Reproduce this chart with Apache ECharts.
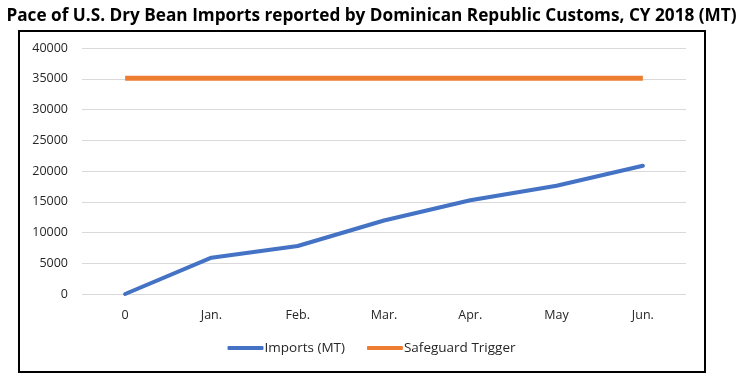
<!DOCTYPE html>
<html>
<head>
<meta charset="utf-8">
<script src="https://cdn.jsdelivr.net/npm/echarts@6/dist/echarts.min.js"></script>
<style>
html,body{margin:0;padding:0;background:#fff;}
#c{width:743px;height:388px;}
</style>
</head>
<body>
<div id="c"></div>
<script>
var categories = ['0', 'Jan.', 'Feb.', 'Mar.', 'Apr.', 'May', 'Jun.'];
var imports = [0, 5900, 7800, 11950, 15250, 17600, 20850];
var safeguard = [35100, 35100, 35100, 35100, 35100, 35100, 35100];
var seriesNames = ['Imports (MT)', 'Safeguard Trigger'];
var titleText = 'Pace of U.S. Dry Bean Imports reported by Dominican Republic Customs, CY 2018 (MT)';

var chart = echarts.init(document.getElementById('c'), null, {renderer: 'canvas'});
var font = '"Open Sans", "Noto Sans", sans-serif';
chart.setOption({
  animation: false,
  backgroundColor: '#fff',
  title: {
    text: titleText,
    left: 'center',
    top: 3,
    textStyle: {fontFamily: font, fontWeight: 'bold', fontSize: 17.2, color: '#000'}
  },
  graphic: [{
    type: 'rect',
    shape: {x: 19, y: 31, width: 686, height: 341},
    style: {fill: 'none', stroke: '#000', lineWidth: 2},
    silent: true, z: 100
  }],
  grid: {left: 82, right: 57, top: 48, bottom: 94, containLabel: false},
  legend: {
    data: seriesNames.map(function (n) { return {name: n, icon: 'roundRect'}; }),
    bottom: 28,
    left: 'center',
    itemWidth: 36,
    itemHeight: 4,
    itemGap: 22,
    textStyle: {fontFamily: font, fontSize: 13.5, color: '#262626', padding: [0, 0, 0, -4]}
  },
  xAxis: {
    type: 'category',
    data: categories,
    boundaryGap: true,
    axisLine: {show: false},
    axisTick: {show: false},
    axisLabel: {fontFamily: font, fontSize: 12.5, color: '#262626', margin: 15}
  },
  yAxis: {
    type: 'value',
    min: 0,
    max: 40000,
    interval: 5000,
    axisLine: {show: false},
    axisTick: {show: false},
    splitLine: {lineStyle: {color: '#d9d9d9', width: 1}},
    axisLabel: {fontFamily: font, fontSize: 12.5, color: '#262626', margin: 14,
      formatter: function (v) { return String(v); }}
  },
  series: [
    {
      name: seriesNames[0], type: 'line', data: imports, symbol: 'none',
      lineStyle: {color: '#4472C4', width: 4, cap: 'round'}, itemStyle: {color: '#4472C4'}
    },
    {
      name: seriesNames[1], type: 'line', data: safeguard, symbol: 'none',
      lineStyle: {color: '#ED7D31', width: 5}, itemStyle: {color: '#ED7D31'}
    }
  ]
});
</script>
</body>
</html>
